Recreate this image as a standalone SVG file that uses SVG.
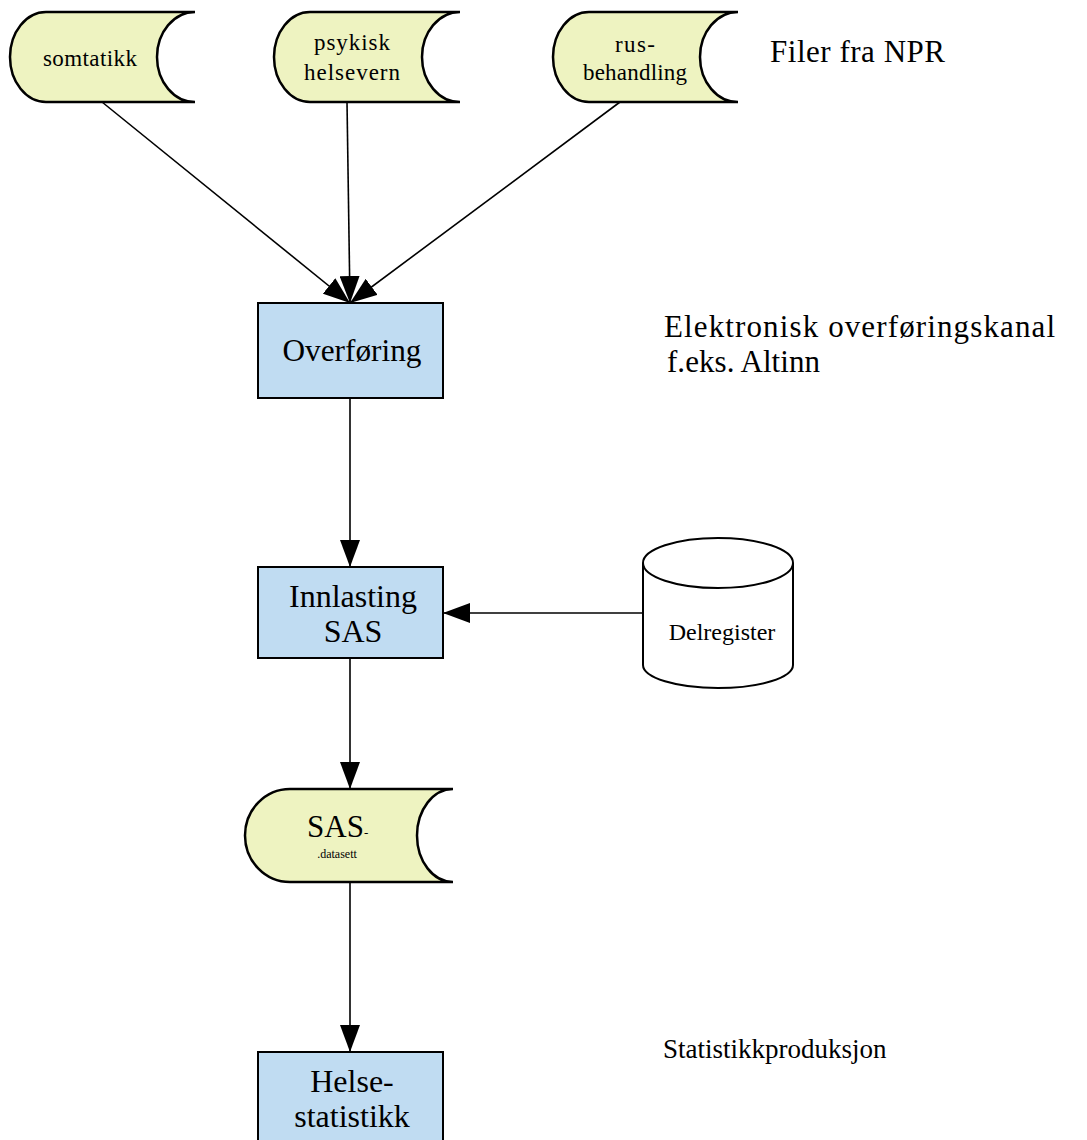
<svg xmlns="http://www.w3.org/2000/svg" width="1087" height="1140" viewBox="0 0 1087 1140">
<defs>
<marker id="ah" viewBox="0 0 27 20" refX="27" refY="10" markerWidth="27" markerHeight="20" markerUnits="userSpaceOnUse" orient="auto">
<path d="M0,0 L27,10 L0,20 Z" fill="#000"/>
</marker>
<style>
.store{fill:#eef3c1;stroke:#000;stroke-width:2.5}
.proc{fill:#c0dcf2;stroke:#000;stroke-width:2}
.cyl{fill:#fff;stroke:#000;stroke-width:2}
.conn{stroke:#000;stroke-width:1.6;fill:none;marker-end:url(#ah)}
text{font-family:"Liberation Serif","Times New Roman",serif;fill:#000}
.t18{font-size:23px;text-anchor:middle}
.t30{font-size:32px;text-anchor:middle}
.lbl{font-size:31px}
</style>
</defs>
<rect width="1087" height="1140" fill="#fff"/>
<g id="connectors">
<line class="conn" x1="102" y1="102" x2="350" y2="303"/>
<line class="conn" x1="347" y1="102" x2="350" y2="303"/>
<line class="conn" x1="620" y1="102" x2="350" y2="303"/>
<line class="conn" x1="350" y1="398" x2="350" y2="567"/>
<line class="conn" x1="643" y1="613" x2="443" y2="613"/>
<line class="conn" x1="350" y1="658" x2="350" y2="789"/>
<line class="conn" x1="350" y1="882" x2="350" y2="1052"/>
</g>
<g id="somtatikk">
<path class="store" d="M46,12 L195,12 A38 45 0 0 0 195,102 L46,102 A36 45 0 0 1 46,12 Z"/>
<text class="t18" x="90" y="66" textLength="94" lengthAdjust="spacing">somtatikk</text>
</g>
<g id="psykisk">
<path class="store" d="M310,12 L460,12 A38 45 0 0 0 460,102 L310,102 A36 45 0 0 1 310,12 Z"/>
<text class="t18" x="352" y="50" textLength="76" lengthAdjust="spacing">psykisk</text>
<text class="t18" x="352" y="80" textLength="96" lengthAdjust="spacing">helsevern</text>
</g>
<g id="rusbehandling">
<path class="store" d="M589,12 L738,12 A38 45 0 0 0 738,102 L589,102 A36 45 0 0 1 589,12 Z"/>
<text class="t18" x="635" y="52" textLength="40" lengthAdjust="spacing">rus-</text>
<text class="t18" x="635" y="80" textLength="104" lengthAdjust="spacing">behandling</text>
</g>
<g id="overforing">
<rect class="proc" x="258" y="303" width="185" height="95"/>
<text class="t30" x="352" y="361" textLength="139" lengthAdjust="spacingAndGlyphs">Overføring</text>
</g>
<g id="innlasting">
<rect class="proc" x="258" y="567" width="185" height="91"/>
<text class="t30" x="353" y="607">Innlasting</text>
<text class="t30" x="353" y="642">SAS</text>
</g>
<g id="delregister">
<path class="cyl" d="M643,563 L643,665 A75 23 0 0 0 793,665 L793,563"/>
<ellipse class="cyl" cx="718" cy="563" rx="75" ry="25"/>
<text x="722" y="640" font-size="24" text-anchor="middle">Delregister</text>
</g>
<g id="sasdatasett">
<path class="store" d="M290,789 L453,789 A36 46.5 0 0 0 453,882 L290,882 A45 46.5 0 0 1 290,789 Z"/>
<text x="307" y="837" font-size="31">SAS<tspan font-size="13">-</tspan></text>
<text x="337" y="858" font-size="12" text-anchor="middle">.datasett</text>
</g>
<g id="helsestatistikk">
<rect class="proc" x="258" y="1052" width="185" height="100"/>
<text class="t30" x="352" y="1092">Helse-</text>
<text class="t30" x="352" y="1127">statistikk</text>
</g>
<g id="labels">
<text class="lbl" x="770" y="62" textLength="175" lengthAdjust="spacing">Filer fra NPR</text>
<text class="lbl" x="664" y="337" textLength="391" lengthAdjust="spacing">Elektronisk overføringskanal</text>
<text class="lbl" x="667" y="372" textLength="153" lengthAdjust="spacing">f.eks. Altinn</text>
<text x="663" y="1058" font-size="27">Statistikkproduksjon</text>
</g>
</svg>
